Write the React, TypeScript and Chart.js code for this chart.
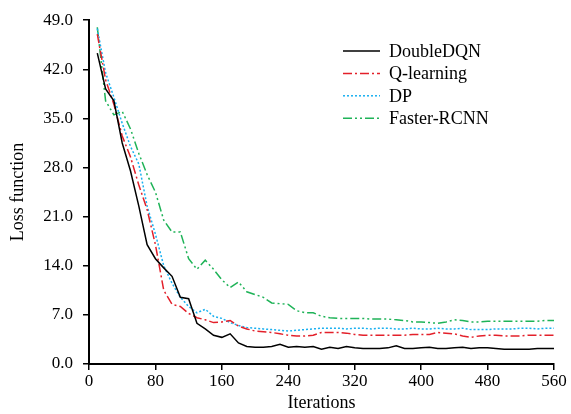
import { useEffect, useRef } from "react";
import { Chart, registerables } from "chart.js";

Chart.register(...registerables);

const FONT = '"Liberation Serif", "Times New Roman", serif';

// Training iterations at which the loss was recorded
const iterations = [
  10, 20, 30, 40, 50, 60, 70, 80, 90, 100,
  110, 120, 130, 140, 150, 160, 170, 180, 190, 200,
  210, 220, 230, 240, 250, 260, 270, 280, 290, 300,
  310, 320, 330, 340, 350, 360, 370, 380, 390, 400,
  410, 420, 430, 440, 450, 460, 470, 480, 490, 500,
  510, 520, 530, 540, 550, 560,
];

const doubleDQN = [
  44.3, 39.2, 37.5, 31.5, 27.5, 22.5, 17.0, 15.0, 13.7, 12.5,
  9.5, 9.3, 5.8, 5.0, 4.1, 3.8, 4.3, 3.0, 2.5, 2.4,
  2.4, 2.5, 2.8, 2.4, 2.5, 2.4, 2.5, 2.1, 2.4, 2.2,
  2.5, 2.3, 2.2, 2.2, 2.2, 2.3, 2.6, 2.2, 2.2, 2.3,
  2.4, 2.2, 2.2, 2.3, 2.4, 2.2, 2.3, 2.3, 2.2, 2.1,
  2.1, 2.1, 2.1, 2.2, 2.2, 2.2,
];

const qLearning = [
  47.0, 40.5, 37.0, 32.5, 29.5, 25.5, 22.0, 17.0, 10.5, 8.5,
  8.2, 7.2, 6.6, 6.3, 5.9, 6.0, 6.2, 5.4, 5.0, 4.7,
  4.6, 4.5, 4.3, 4.1, 4.0, 4.0, 4.1, 4.5, 4.5, 4.5,
  4.4, 4.2, 4.1, 4.1, 4.1, 4.1, 4.1, 4.1, 4.2, 4.2,
  4.2, 4.5, 4.4, 4.3, 4.0, 3.8, 4.0, 4.1, 4.1, 4.0,
  4.0, 4.0, 4.1, 4.1, 4.1, 4.1,
];

const dp = [
  47.8, 41.5, 38.0, 34.3, 31.0, 28.5, 22.5, 18.5, 14.0, 11.5,
  9.5, 8.2, 7.3, 7.8, 6.8, 6.5, 5.9, 5.5, 5.2, 5.1,
  5.0, 4.9, 4.8, 4.7, 4.8, 4.9, 5.0, 5.1, 5.1, 5.1,
  5.0, 5.1, 5.1, 5.0, 5.1, 5.1, 5.0, 5.0, 5.1, 5.0,
  5.0, 5.1, 5.0, 5.0, 5.1, 4.9, 4.9, 4.9, 5.0, 5.0,
  5.0, 5.1, 5.1, 5.0, 5.1, 5.1,
];

const fasterRCNN = [
  48.0, 37.5, 35.5, 36.0, 33.5, 30.0, 27.0, 24.5, 20.5, 18.8,
  18.8, 15.0, 13.5, 14.8, 13.5, 12.0, 10.9, 11.7, 10.3, 9.9,
  9.5, 8.7, 8.6, 8.5, 7.6, 7.3, 7.3, 6.8, 6.6, 6.5,
  6.5, 6.5, 6.5, 6.4, 6.4, 6.4, 6.3, 6.2, 6.0, 6.0,
  5.9, 5.8, 6.0, 6.3, 6.2, 6.0, 6.0, 6.1, 6.1, 6.1,
  6.1, 6.1, 6.1, 6.1, 6.2, 6.2,
];

const seriesNames = ["DoubleDQN", "Q-learning", "DP", "Faster-RCNN"];
const seriesValues = [doubleDQN, qLearning, dp, fasterRCNN];
const seriesColors = ["#000000", "#e3202a", "#1ab0f0", "#1fb358"];
const seriesDashes: number[][] = [[], [9, 3, 2, 3], [2, 2], [9, 3, 2, 3, 2, 3]];

const xTitle = "Iterations";
const yTitle = "Loss function";

// Legend drawn inside the plot, upper right
const lossLegend = {
  id: "lossLegend",
  afterDraw(chart: any) {
    const ctx = chart.ctx as CanvasRenderingContext2D;
    ctx.save();
    chart.data.datasets.forEach((ds: any, i: number) => {
      const y = 51 + i * 22.4;
      ctx.strokeStyle = ds.borderColor;
      ctx.lineWidth = ds.borderWidth;
      ctx.setLineDash(ds.borderDash || []);
      ctx.beginPath();
      ctx.moveTo(343, y);
      ctx.lineTo(380, y);
      ctx.stroke();
      ctx.setLineDash([]);
      ctx.fillStyle = "#000";
      ctx.font = `18px ${FONT}`;
      ctx.textBaseline = "middle";
      ctx.textAlign = "left";
      ctx.fillText(ds.label, 389, y + 1);
    });
    ctx.restore();
  },
};

export default function App() {
  const canvasRef = useRef<HTMLCanvasElement | null>(null);

  useEffect(() => {
    const canvas = canvasRef.current;
    if (!canvas) return;

    const datasets = seriesNames.map((name, s) => ({
      label: name,
      data: iterations.map((it, i) => ({ x: it, y: seriesValues[s][i] })),
      borderColor: seriesColors[s],
      backgroundColor: seriesColors[s],
      borderWidth: 1.5,
      borderDash: seriesDashes[s],
      pointRadius: 0,
      tension: 0,
      fill: false,
    }));

    const chart = new Chart(canvas, {
      type: "line",
      data: { datasets },
      options: {
        responsive: false,
        animation: false,
        layout: { padding: { top: 17, right: 17, bottom: 0, left: 0 } },
        plugins: {
          legend: { display: false },
          tooltip: { enabled: false },
        },
        scales: {
          x: {
            type: "linear",
            min: 0,
            max: 560,
            afterFit(scale: any) {
              scale.height = 50;
            },
            ticks: {
              stepSize: 80,
              color: "#000",
              padding: 1,
              maxRotation: 0,
              font: { family: FONT, size: 17 },
            },
            grid: {
              drawOnChartArea: false,
              drawTicks: true,
              tickLength: 6,
              color: "#000",
              lineWidth: 1.5,
            },
            border: { color: "#000", width: 2 },
            title: {
              display: true,
              text: xTitle,
              color: "#000",
              font: { family: FONT, size: 18 },
              padding: { top: 0, bottom: 0 },
            },
          },
          y: {
            type: "linear",
            min: 0,
            max: 49,
            afterFit(scale: any) {
              scale.width = 89;
            },
            ticks: {
              stepSize: 7,
              color: "#000",
              padding: 10,
              font: { family: FONT, size: 17 },
              callback: (v: any) => Number(v).toFixed(1),
            },
            grid: {
              drawOnChartArea: false,
              drawTicks: true,
              tickLength: 6,
              color: "#000",
              lineWidth: 1.5,
            },
            border: { color: "#000", width: 2 },
            title: {
              display: true,
              text: yTitle,
              color: "#000",
              font: { family: FONT, size: 18 },
              padding: { top: 7, bottom: 0 },
            },
          },
        },
      },
      plugins: [lossLegend],
    });

    return () => chart.destroy();
  }, []);

  return (
    <div style={{ position: "fixed", left: 0, top: 0, width: 571, height: 414, background: "#fff" }}>
      <canvas ref={canvasRef} width={571} height={414} />
    </div>
  );
}
